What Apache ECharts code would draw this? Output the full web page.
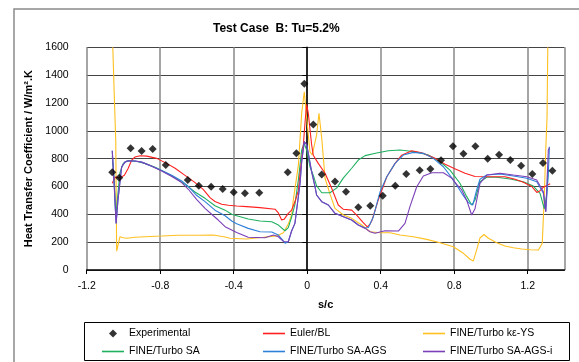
<!DOCTYPE html>
<html><head><meta charset="utf-8">
<script src="https://cdn.jsdelivr.net/npm/echarts@6/dist/echarts.min.js"></script>
<style>html,body{margin:0;padding:0;background:#fff}#c{width:579px;height:362px}</style>
</head><body><div id="c"></div>
<script>
const titleText = 'Test Case  B: Tu=5.2%';
const xName = 's/c';
const yName = 'Heat Transfer Coefficient / W/m\u00B2.K';
const seriesNames = ['Experimental','Euler/BL','FINE/Turbo k\u03B5-YS','FINE/Turbo SA','FINE/Turbo SA-AGS','FINE/Turbo SA-AGS-i'];

const expX = [-1.061,-1.023,-0.961,-0.901,-0.841,-0.770,-0.650,-0.590,-0.523,-0.460,-0.400,-0.339,-0.261,-0.106,-0.059,-0.016,0.033,0.079,0.151,0.211,0.278,0.343,0.411,0.479,0.539,0.612,0.670,0.728,0.793,0.850,0.915,0.982,1.044,1.105,1.164,1.225,1.283,1.334];
const expY = [702,663,874,855,869,754,647,606,598,582,558,551,555,702,838,1338,1045,686,636,562,451,462,534,606,690,716,726,788,889,836,889,800,828,790,749,690,769,713];

const eulerBL = [[-1.061,623],[-1.045,668],[-1.019,662],[-0.995,680],[-0.974,731],[-0.955,790],[-0.937,812],[-0.910,821],[-0.873,818],[-0.819,802],[-0.765,766],[-0.719,731],[-0.665,680],[-0.610,628],[-0.565,578],[-0.529,520],[-0.502,492],[-0.465,472],[-0.429,465],[-0.384,460],[-0.329,455],[-0.257,448],[-0.175,437],[-0.157,410],[-0.139,360],[-0.126,364],[-0.103,407],[-0.085,430],[-0.067,490],[-0.048,570],[-0.039,695],[-0.021,900],[-0.012,1060],[-0.003,1190],[0.006,1126],[0.015,1010],[0.024,900],[0.033,825],[0.060,766],[0.097,695],[0.133,587],[0.169,467],[0.197,436],[0.242,430],[0.269,395],[0.305,340],[0.327,309],[0.342,330],[0.353,359],[0.387,505],[0.433,670],[0.478,766],[0.514,825],[0.569,857],[0.623,843],[0.696,802],[0.750,760],[0.800,730],[0.859,695],[0.913,672],[0.995,670],[1.076,670],[1.131,652],[1.176,630],[1.222,600],[1.249,557],[1.267,570],[1.285,595],[1.322,620]];

const kEpsYS = [[-1.058,1600],[-1.048,1173],[-1.042,934],[-1.037,135],[-1.019,239],[-1.001,232],[-0.982,228],[-0.937,235],[-0.883,239],[-0.792,244],[-0.701,250],[-0.600,250],[-0.511,251],[-0.447,237],[-0.420,228],[-0.329,223],[-0.239,235],[-0.166,245],[-0.130,268],[-0.103,330],[-0.085,395],[-0.076,500],[-0.048,754],[-0.030,1130],[-0.016,1281],[-0.003,1090],[0.015,850],[0.027,826],[0.051,970],[0.064,1126],[0.079,946],[0.097,659],[0.124,545],[0.151,443],[0.197,395],[0.242,371],[0.297,323],[0.342,275],[0.396,268],[0.451,268],[0.505,251],[0.577,239],[0.650,220],[0.723,196],[0.795,167],[0.850,120],[0.886,77],[0.904,65],[0.922,144],[0.940,230],[0.962,255],[0.986,228],[1.031,196],[1.076,172],[1.122,160],[1.167,151],[1.213,146],[1.258,144],[1.279,192],[1.290,527],[1.298,862],[1.305,1100],[1.309,1600]];

const turboSA = [[-1.061,820],[-1.050,650],[-1.042,383],[-1.035,370],[-1.019,700],[-1.001,766],[-0.982,783],[-0.955,785],[-0.919,778],[-0.883,766],[-0.828,738],[-0.774,702],[-0.719,662],[-0.665,615],[-0.611,560],[-0.556,515],[-0.502,462],[-0.447,430],[-0.411,400],[-0.384,390],[-0.321,366],[-0.257,352],[-0.193,347],[-0.157,323],[-0.121,282],[-0.103,305],[-0.085,380],[-0.067,470],[-0.048,650],[-0.030,862],[-0.017,910],[-0.003,862],[0.015,742],[0.033,680],[0.051,605],[0.079,555],[0.124,555],[0.161,590],[0.197,662],[0.242,731],[0.278,790],[0.315,822],[0.378,840],[0.441,857],[0.505,862],[0.587,850],[0.659,826],[0.723,778],[0.777,718],[0.831,623],[0.868,527],[0.895,467],[0.913,503],[0.940,634],[0.977,666],[1.031,666],[1.104,654],[1.176,634],[1.230,603],[1.267,551],[1.290,440],[1.303,540],[1.312,720]];

const turboSAAGS = [[-1.061,857],[-1.050,600],[-1.040,335],[-1.030,500],[-1.010,740],[-0.992,775],[-0.974,785],[-0.937,783],[-0.901,775],[-0.846,745],[-0.792,715],[-0.737,680],[-0.683,640],[-0.647,600],[-0.601,535],[-0.556,491],[-0.502,430],[-0.447,390],[-0.411,352],[-0.384,332],[-0.321,299],[-0.257,275],[-0.193,273],[-0.157,251],[-0.130,210],[-0.121,192],[-0.103,203],[-0.085,280],[-0.067,335],[-0.048,530],[-0.039,623],[-0.030,780],[-0.016,922],[-0.003,900],[0.006,838],[0.024,706],[0.042,600],[0.051,539],[0.079,491],[0.115,467],[0.151,407],[0.197,383],[0.242,359],[0.278,323],[0.315,302],[0.333,305],[0.360,383],[0.396,560],[0.433,670],[0.478,766],[0.523,826],[0.577,845],[0.632,838],[0.686,802],[0.741,742],[0.795,647],[0.841,551],[0.877,484],[0.901,467],[0.922,575],[0.940,652],[0.977,682],[1.049,690],[1.122,675],[1.195,659],[1.249,634],[1.285,551],[1.298,419],[1.312,695],[1.318,886]];

const turboSAAGSi = [[-1.061,857],[-1.050,600],[-1.040,335],[-1.030,500],[-1.010,740],[-0.992,775],[-0.974,785],[-0.937,783],[-0.901,775],[-0.846,745],[-0.792,712],[-0.737,672],[-0.683,628],[-0.647,580],[-0.601,505],[-0.556,443],[-0.511,390],[-0.484,359],[-0.447,311],[-0.411,287],[-0.384,270],[-0.321,235],[-0.230,232],[-0.184,251],[-0.157,239],[-0.130,205],[-0.121,192],[-0.103,203],[-0.085,280],[-0.067,335],[-0.048,530],[-0.039,623],[-0.030,780],[-0.016,922],[-0.003,900],[0.006,838],[0.024,706],[0.042,600],[0.051,539],[0.079,491],[0.115,467],[0.151,407],[0.197,383],[0.242,359],[0.278,323],[0.315,299],[0.342,275],[0.369,264],[0.423,282],[0.496,280],[0.532,335],[0.559,455],[0.596,598],[0.632,675],[0.678,699],[0.741,699],[0.786,660],[0.813,615],[0.841,575],[0.868,500],[0.895,395],[0.904,383],[0.913,440],[0.940,623],[0.977,682],[1.049,695],[1.122,682],[1.195,670],[1.249,647],[1.285,562],[1.298,419],[1.312,862],[1.318,880]];

const FONT = "'Liberation Sans', Arial, sans-serif";
const chart = echarts.init(document.getElementById('c'), null, {renderer: 'canvas'});

function lineSeries(name, data, color, z) {
  return {name: name, type: 'line', data: data, symbol: 'none', showSymbol: false,
    lineStyle: {color: color, width: 1.1}, itemStyle: {color: color}, z: z, animation: false};
}

const LINE_ICON = 'path://M0,0L22,0L22,1.6L0,1.6Z';
const DIAMOND_ICON = 'path://M4,0L8,4L4,8L0,4Z';
function legendItem(i) {
  return {name: seriesNames[i], icon: i === 0 ? DIAMOND_ICON : LINE_ICON};
}
const legendCommon = {orient: 'vertical', itemWidth: 22, itemHeight: 8, itemGap: 7,
  textStyle: {fontFamily: FONT, fontSize: 10.5, color: '#000'}, selectedMode: false, padding: 0};

chart.setOption({
  animation: false,
  textStyle: {fontFamily: FONT},
  title: {text: titleText, left: 213, top: 23, padding: 0,
    textStyle: {fontFamily: FONT, fontSize: 12, fontWeight: 'bold', color: '#000'}},
  grid: {left: 86.7, right: 14.5, top: 47.3, bottom: 92, containLabel: false},
  xAxis: {type: 'value', min: -1.2, max: 1.4, interval: 0.4,
    name: xName, nameLocation: 'middle', nameGap: 29,
    nameTextStyle: {fontFamily: FONT, fontSize: 11, fontWeight: 'bold', color: '#000'},
    axisLine: {onZero: false, lineStyle: {color: '#000', width: 1.5}},
    axisTick: {show: true, length: 4, lineStyle: {color: '#000'}},
    axisLabel: {margin: 11, fontSize: 10.5, color: '#000', fontFamily: FONT, showMaxLabel: false,
      formatter: v => (Math.round(v*10)/10).toString()},
    splitLine: {show: true, lineStyle: {color: '#888', width: 1.5}}},
  yAxis: {type: 'value', min: 0, max: 1600, interval: 200,
    name: yName, nameLocation: 'middle', nameGap: 50,
    nameTextStyle: {fontFamily: FONT, fontSize: 11, fontWeight: 'bold', color: '#000'},
    axisLine: {show: true, lineStyle: {color: '#000', width: 1.5}},
    axisTick: {show: true, length: 5, lineStyle: {color: '#000'}},
    axisLabel: {margin: 18, fontSize: 10.5, color: '#000', fontFamily: FONT,
      formatter: v => String(Math.round(v))},
    splitLine: {show: true, lineStyle: {color: '#444', width: 1}}},
  legend: [
    Object.assign({left: 102, top: 328, data: [legendItem(0), legendItem(3)]}, legendCommon),
    Object.assign({left: 263, top: 328, data: [legendItem(1), legendItem(4)]}, legendCommon),
    Object.assign({left: 423, top: 328, data: [legendItem(2), legendItem(5)]}, legendCommon)
  ],
  graphic: [
    {type: 'rect', silent: true, shape: {x: 14, y: 9, width: 620, height: 420},
      style: {fill: 'none', stroke: '#8a8a8a', lineWidth: 1.5}},
    {type: 'rect', silent: true, shape: {x: 84.5, y: 322.5, width: 485, height: 38},
      style: {fill: 'none', stroke: '#000', lineWidth: 1}}
  ],
  series: [
    lineSeries(seriesNames[2], kEpsYS, '#ffc020', 3),
    lineSeries(seriesNames[3], turboSA, '#1fb060', 4),
    lineSeries(seriesNames[1], eulerBL, '#ff2020', 5),
    lineSeries(seriesNames[4], turboSAAGS, '#2f80d8', 6),
    lineSeries(seriesNames[5], turboSAAGSi, '#7b3fb8', 7),
    {name: seriesNames[0], type: 'scatter', symbol: 'diamond', symbolSize: 8,
      data: expX.map((x, i) => [x, expY[i]]), itemStyle: {color: '#000'}, z: 10, animation: false}
  ]
});
</script></body></html>
